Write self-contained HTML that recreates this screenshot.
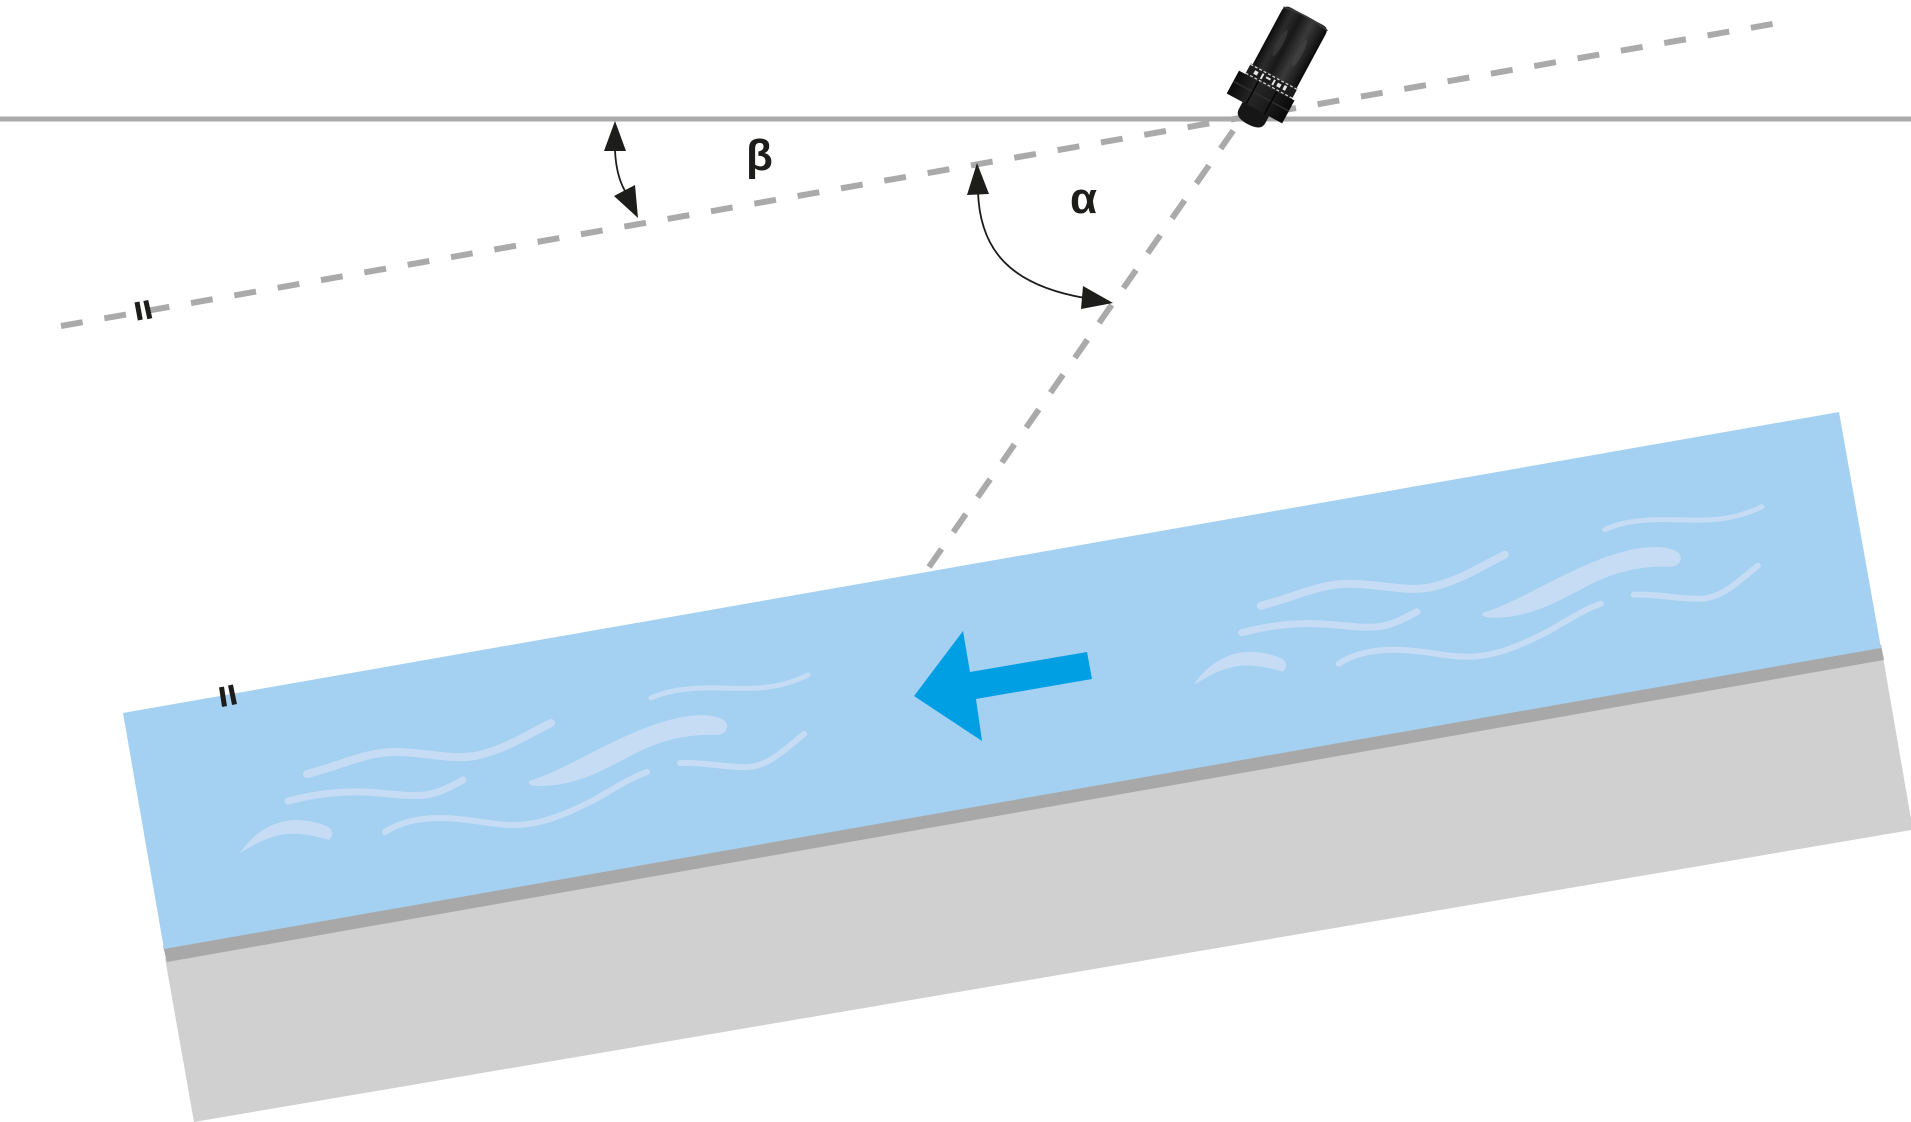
<!DOCTYPE html>
<html>
<head>
<meta charset="utf-8">
<style>
  html, body { margin:0; padding:0; background:#ffffff; }
  svg { display:block; }
  .lbl { font-family: "Liberation Sans", "DejaVu Sans", sans-serif; font-weight:bold; fill:#1d1d1b; }
</style>
</head>
<body>
<svg width="1911" height="1122" viewBox="0 0 1911 1122" xmlns="http://www.w3.org/2000/svg">
  <defs>
    <linearGradient id="bodyG" x1="0" y1="0" x2="1" y2="0">
      <stop offset="0" stop-color="#0c0c0c"/>
      <stop offset="0.2" stop-color="#2c2c2c"/>
      <stop offset="0.4" stop-color="#181818"/>
      <stop offset="0.65" stop-color="#3a3a3a"/>
      <stop offset="0.85" stop-color="#202020"/>
      <stop offset="1" stop-color="#0a0a0a"/>
    </linearGradient>
    <linearGradient id="nutG" x1="0" y1="0" x2="1" y2="0">
      <stop offset="0" stop-color="#0a0a0a"/>
      <stop offset="0.35" stop-color="#262626"/>
      <stop offset="0.7" stop-color="#1a1a1a"/>
      <stop offset="1" stop-color="#080808"/>
    </linearGradient>
    <g id="waves" fill="none" stroke="#c6dcf4" stroke-linecap="round">
      <path d="M651,698 C668,690 690,687 720,688 C750,689 778,690 808,675" stroke-width="5"/>
      <path d="M307,774 C340,766 365,752 395,752 C425,752 450,760 475,756 C505,750 530,733 551,723" stroke-width="8"/>
      <path d="M680,763 C705,762 728,768 748,767 C768,766 782,752 804,734" stroke-width="6"/>
      <path d="M288,801 C315,794 340,791 364,792 C390,793 405,797 425,795 C440,793 452,786 463,780" stroke-width="7"/>
      <path d="M385,832 C400,822 420,818 440,818 C470,818 495,826 517,825 C545,824 570,812 594,800 C615,788 630,778 647,772" stroke-width="6"/>
      <path d="M529,781 C560,772 600,746 640,730 C665,720 690,713 712,716 Q728,719 727,727 Q726,735 715,735 C690,734 665,739 640,751 C610,766 580,786 540,786 Q527,786 529,781 Z" fill="#c6dcf4" stroke="none"/>
      <path d="M240,853 C250,838 268,821 295,820 C312,820 325,825 330,828 Q335,834 329,840 C312,835 295,832 280,835 C265,838 252,846 240,853 Z" fill="#c6dcf4" stroke="none"/>
    </g>
  </defs>

  <rect x="0" y="0" width="1911" height="1122" fill="#ffffff"/>

  <polygon points="165,958 1883,657 1911,819 1911,830 194,1122" fill="#d0d0d0"/>
  <polygon points="163,946 1881,645 1884,660 167,962" fill="#a8a8a8"/>
  <polygon points="123,713 1839,412 1881,648 164,949" fill="#a4d1f1"/>

  <use href="#waves"/>
  <use href="#waves" transform="translate(953.8,-168.3)"/>

  <polygon points="914,696 963,631 970,672 1087,652 1092,679 976,699 982,741" fill="#009fe3"/>

  <g stroke="#1d1d1b" stroke-width="5">
    <line x1="221.5" y1="687" x2="224.5" y2="706.5"/>
    <line x1="230.5" y1="685" x2="234.5" y2="704.5"/>
  </g>

  <line x1="0" y1="119" x2="1911" y2="119" stroke="#aaaaaa" stroke-width="5"/>

  <line x1="61" y1="326" x2="1778" y2="23" stroke="#aaaaaa" stroke-width="6" stroke-dasharray="22 22"/>
  <line x1="929" y1="567" x2="1242" y2="118" stroke="#aaaaaa" stroke-width="6" stroke-dasharray="22 20.5"/>

  <g stroke="#1d1d1b" stroke-width="5">
    <line x1="137" y1="302" x2="140.3" y2="320"/>
    <line x1="145.8" y1="300.5" x2="149.8" y2="318.7"/>
  </g>

  <path d="M615,150 Q616,175 625,191" fill="none" stroke="#1d1d1b" stroke-width="1.8"/>
  <polygon points="615,121 604,151 626,151" fill="#1d1d1b"/>
  <polygon points="638,218 614,196 635,185" fill="#1d1d1b"/>

  <path d="M978,192 C980,250 1010,285 1085,298" fill="none" stroke="#1d1d1b" stroke-width="1.8"/>
  <polygon points="977,163 967,195 989,194" fill="#1d1d1b"/>
  <polygon points="1113,303 1083,286 1081,309" fill="#1d1d1b"/>

  <text class="lbl" x="746" y="170" font-size="44">β</text>
  <text class="lbl" x="1070" y="213" font-size="44">α</text>

  <g transform="translate(1250,122) rotate(28.3)">
    <path d="M-16,-16 L14,-16 L14,-6 Q14,3 -1,3 Q-16,3 -16,-6 Z" fill="#161616"/>
    <path d="M-34,-40 L29,-40 L29,-14 L-34,-14 Z" fill="url(#nutG)"/>
    <path d="M-34,-28 L29,-28" stroke="#2e2e2e" stroke-width="1.5"/>
    <path d="M-12,-40 L-12,-14 M9,-40 L9,-14" stroke="#050505" stroke-width="1.5"/>
    <rect x="-27" y="-52" width="53" height="12" fill="#1c1c1c"/>
    <path d="M-27,-51 L26,-51 M-27,-41 L26,-41" stroke="#d8d8d8" stroke-width="1.2" stroke-dasharray="3 2"/>
    <g fill="#e6e6e6">
      <rect x="-20" y="-48" width="4" height="4"/>
      <rect x="-12" y="-49" width="2" height="6"/>
      <rect x="-7" y="-48" width="5" height="2"/>
      <rect x="1" y="-49" width="2" height="6"/>
      <rect x="6" y="-48" width="4" height="4"/>
      <rect x="13" y="-49" width="3" height="5"/>
    </g>
    <path d="M-25,-52 L-25,-113 Q-25,-120 -18,-120 L18,-120 Q25,-120 25,-113 L25,-52 Z" fill="url(#bodyG)"/>
    <path d="M-25,-117 Q0,-122 25,-117" stroke="#3a3a3a" stroke-width="1.5" fill="none"/>
    <ellipse cx="-11" cy="-84" rx="3" ry="15" fill="#3c3c3c" opacity="0.7"/>
    <ellipse cx="11" cy="-84" rx="3" ry="15" fill="#444444" opacity="0.7"/>
  </g>
</svg>
</body>
</html>
